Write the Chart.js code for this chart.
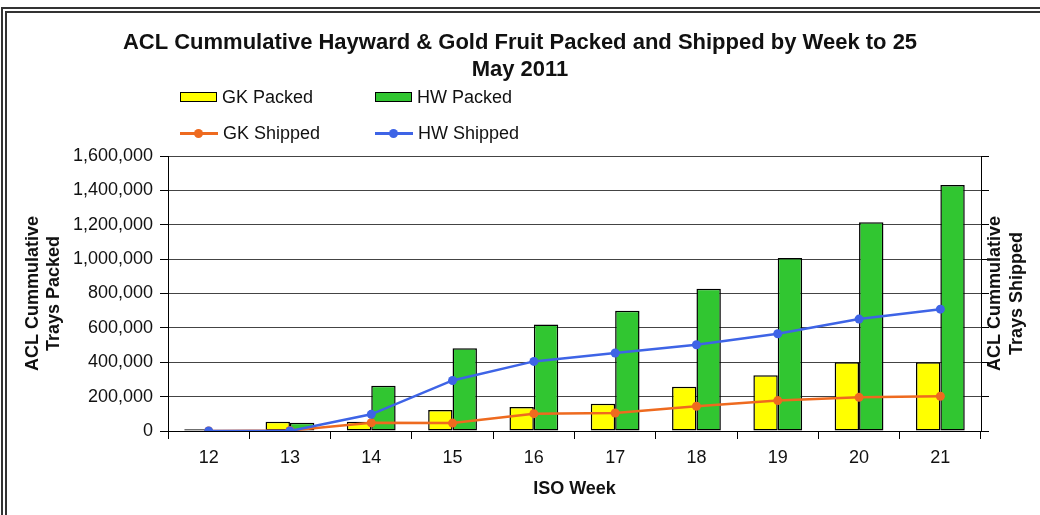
<!DOCTYPE html>
<html>
<head>
<meta charset="utf-8">
<script src="https://cdn.jsdelivr.net/npm/chart.js@4/dist/chart.umd.min.js"></script>
<style>
    body { margin: 0; background: #fff; font-family: 'Liberation Sans', Arial, sans-serif; }
    .wrap { position: relative; width: 1040px; height: 515px; overflow: hidden; }
    .frame { position: absolute; left: 1px; top: 7px; width: 1100px; height: 600px; border-left: 6px double #333; border-top: 6px double #333; }
    canvas { position: absolute; left: 0; top: 0; }
    .legend { position: absolute; left: 0; top: 0; font-size: 18px; color: #111; }
    .item { position: absolute; display: flex; align-items: center; height: 22px; white-space: nowrap; }
    .box { width: 35px; height: 8px; border: 1.5px solid #000; margin-right: 5px; }
    .lineSw { position: relative; width: 38px; height: 3px; margin-right: 5px; }
    .lineSw span { position: absolute; left: 14px; top: -3px; width: 9px; height: 9px; border-radius: 50%; }
</style>
</head>
<body>
<div class="wrap">
    <div class="frame"></div>
    <canvas id="myChart" width="1040" height="515"></canvas>
    <div class="legend"></div>
</div>
<script>
// datos
const weeks = ['12', '13', '14', '15', '16', '17', '18', '19', '20', '21'];
const gkPacked = [10000, 54000, 54000, 122000, 139000, 159000, 257000, 325000, 400000, 400000];
const hwPacked = [0, 48000, 263000, 481000, 619000, 700000, 828000, 1006000, 1215000, 1432000];
const gkShipped = [0, 3000, 48000, 46000, 101000, 105000, 144000, 177000, 196000, 202000];
const hwShipped = [0, 0, 97000, 294000, 405000, 454000, 502000, 566000, 651000, 709000];
const yMax = 1600000;
const yStep = 200000;

const titulo = ['ACL Cummulative Hayward & Gold Fruit Packed and Shipped by Week to 25', 'May 2011'];
const leftTitle = ['ACL Cummulative', 'Trays Packed'];
const rightTitle = ['ACL Cummulative', 'Trays Shipped'];

const colYellow = '#FFFF00';
const colGreen = '#31C631';
const colOrange = '#EE6A1F';
const colBlue = '#3E64E6';
const fuente = "'Liberation Sans', Arial, sans-serif";

//titulo del eje derecho, se lee de abajo hacia arriba
const rightTitlePlugin = {
    id: 'rightTitle',
    afterDraw(chart) {
        const ctx = chart.ctx;
        const cy = (chart.chartArea.top + chart.chartArea.bottom) / 2;
        ctx.save();
        ctx.font = 'bold 18px ' + fuente;
        ctx.fillStyle = '#111';
        ctx.textAlign = 'center';
        ctx.textBaseline = 'middle';
        rightTitle.forEach((t, i) => {
            ctx.save();
            ctx.translate(995 + i * 22, cy);
            ctx.rotate(-Math.PI / 2);
            ctx.fillText(t, 0, 0);
            ctx.restore();
        });
        ctx.restore();
    }
};

const cv = document.querySelector('#myChart').getContext('2d');
const myChart = new Chart(cv, {
    type: 'bar',
    data: {
        labels: weeks,
        datasets: [
            { label: 'GK Packed', data: gkPacked, backgroundColor: colYellow, borderColor: '#000', borderWidth: 1.5, borderSkipped: false, order: 2 },
            { label: 'HW Packed', data: hwPacked, backgroundColor: colGreen, borderColor: '#000', borderWidth: 1.5, borderSkipped: false, order: 2 },
            { type: 'line', label: 'GK Shipped', data: gkShipped, yAxisID: 'y2', borderColor: colOrange, backgroundColor: colOrange, borderWidth: 2.5, pointRadius: 4.5, pointBackgroundColor: colOrange, pointBorderWidth: 0, order: 1 },
            { type: 'line', label: 'HW Shipped', data: hwShipped, yAxisID: 'y2', borderColor: colBlue, backgroundColor: colBlue, borderWidth: 2.5, pointRadius: 4.5, pointBackgroundColor: colBlue, pointBorderWidth: 0, order: 0 }
        ]
    },
    options: {
        responsive: false,
        animation: false,
        devicePixelRatio: 1,
        datasets: { bar: { categoryPercentage: 0.6, barPercentage: 1.0 } },
        layout: { padding: 0 },
        plugins: {
            legend: { display: false },
            tooltip: { enabled: false },
            title: {
                display: true,
                text: titulo,
                color: '#111',
                font: { family: fuente, size: 22, weight: 'bold', lineHeight: 1.25 },
                padding: { top: 29, bottom: 72 }
            }
        },
        scales: {
            x: {
                afterFit: s => { s.height = 84; },
                grid: { offset: true, drawOnChartArea: false, drawTicks: true, tickLength: 8, color: '#000' },
                border: { color: '#000', width: 1 },
                ticks: { color: '#111', padding: 8, font: { family: fuente, size: 18 } },
                title: { display: true, text: 'ISO Week', color: '#111', font: { family: fuente, size: 18, weight: 'bold' }, padding: { top: 0, bottom: 15 } }
            },
            y: {
                min: 0, max: yMax,
                afterFit: s => { s.width = 168; },
                grid: { color: '#444', lineWidth: 1, tickLength: 8, tickColor: '#000' },
                border: { color: '#000', width: 1 },
                ticks: { stepSize: yStep, color: '#111', padding: 7, font: { family: fuente, size: 18 }, callback: v => v.toLocaleString('en-US') },
                title: { display: true, text: leftTitle, color: '#111', font: { family: fuente, size: 18, weight: 'bold', lineHeight: 1.2 }, padding: { top: 22, bottom: 0 } }
            },
            y2: {
                position: 'right',
                min: 0, max: yMax,
                afterFit: s => { s.width = 59; },
                grid: { drawOnChartArea: false, tickLength: 8, color: '#000' },
                border: { color: '#000', width: 1 },
                ticks: { stepSize: yStep, display: false }
            }
        }
    },
    plugins: [rightTitlePlugin]
});

//leyenda en dos filas como en el original
const $legend = document.querySelector('.legend');
const posLeyenda = [[180, 86], [375, 86], [180, 122], [375, 122]];
myChart.data.datasets.forEach((ds, i) => {
    const $item = document.createElement('div');
    $item.className = 'item';
    $item.style.left = posLeyenda[i][0] + 'px';
    $item.style.top = posLeyenda[i][1] + 'px';
    if (ds.type === 'line') {
        $item.innerHTML = '<div class="lineSw" style="background:' + ds.borderColor + '"><span style="background:' + ds.borderColor + '"></span></div>';
    } else {
        $item.innerHTML = '<div class="box" style="background:' + ds.backgroundColor + '"></div>';
    }
    $item.appendChild(document.createTextNode(ds.label));
    $legend.appendChild($item);
});
</script>
</body>
</html>
